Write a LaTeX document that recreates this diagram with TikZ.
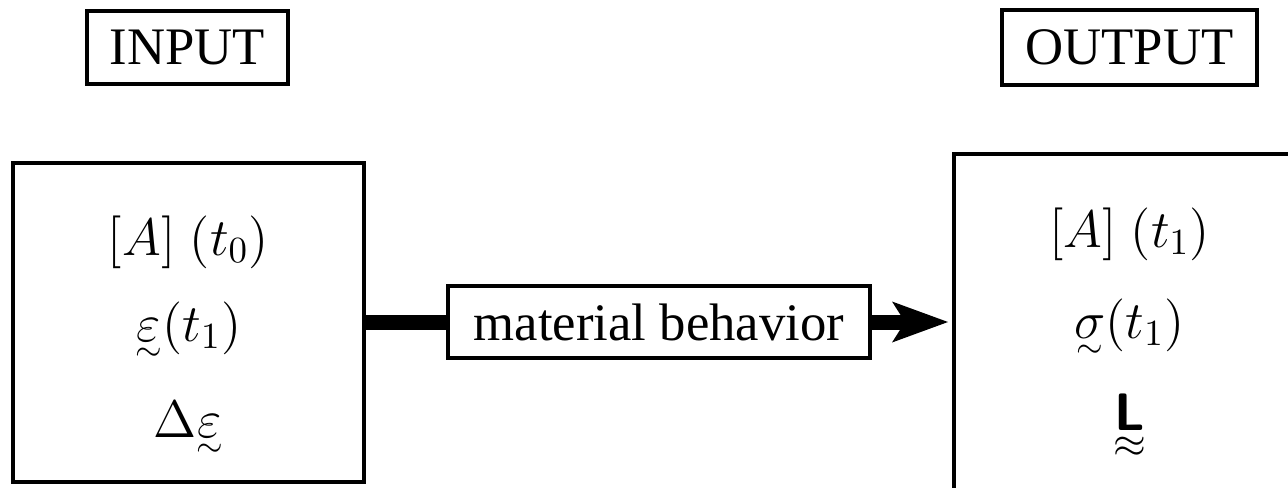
\RequirePackage{fix-cm}
\documentclass[tikz,border=0pt]{standalone}
\usepackage{amsmath}
\usepackage{fontspec}
\setmainfont{Liberation Serif}
\usetikzlibrary{arrows.meta}
% symbol #3 with a mark #2 (set at #1 pt) tight below it
\newcommand{\undermark}[3]{\mathord{\vtop{\offinterlineskip\halign{\hfil##\hfil\cr$#3$\cr\noalign{\kern2pt}\fontsize{#1}{#1}\selectfont$#2$\cr}}}}
\tikzset{
	bigbox/.style={draw, line width=0.4mm, minimum width=35.1mm, inner sep=0pt},
	labelbox/.style={draw, line width=0.35mm, inner sep=0pt},
	row/.style={anchor=base, inner sep=0pt},
	flow/.style={line width=1.5mm}
}
\begin{document}
\begin{tikzpicture}[font=\fontsize{15}{18}\selectfont]
		\useasboundingbox (0,0) rectangle (128.8mm,48.7mm);
		\clip (0,0) rectangle (128.8mm,48.7mm);
		%input side
		\node[labelbox, minimum width=20.1mm, minimum height=7.3mm] (inlabel) at (18.75mm,43.95mm) {INPUT};
		\node[bigbox, minimum height=31.9mm] (inbox) at (18.85mm,16.45mm) {};
		\node[row] (inA) at (18.85mm,23.2mm) {$[A]\;(t_0)$};
		\node[row] (ineps) at (18.85mm,14.6mm) {$\undermark{9.5}{\sim}{\varepsilon}(t_1)$};
		\node[row] (indeps) at (18.85mm,5.0mm) {$\Delta\undermark{9.5}{\sim}{\varepsilon}$};
		%output side (box runs past the edge)
		\node[labelbox, minimum width=25.5mm, minimum height=7.5mm] (outlabel) at (112.95mm,43.95mm) {OUTPUT};
		\node[bigbox, minimum height=36mm] (outbox) at (112.95mm,15.3mm) {};
		\node[row] (outA) at (112.95mm,24.0mm) {$[A]\;(t_1)$};
		\node[row] (outsig) at (112.95mm,14.9mm) {$\undermark{9.5}{\sim}{\sigma}(t_1)$};
		\node[row] (outL) at (112.95mm,5.7mm) {$\undermark{12}{\approx}{\text{\sffamily\bfseries L}}$};
		%material behavior
		\node[labelbox, line width=0.4mm, minimum width=42.2mm, minimum height=7.2mm] (mat) at (65.9mm,16.5mm) {material behavior};
		\draw[flow] (inbox.east |- mat.west) -- (mat.west);
		\draw[flow, -{Stealth[length=5.6mm, width=4.1mm, inset=1.3mm, line width=0pt]}, shorten >=0.4mm] (mat.east) -- (mat.east -| outbox.west);
	\end{tikzpicture}
\end{document}
